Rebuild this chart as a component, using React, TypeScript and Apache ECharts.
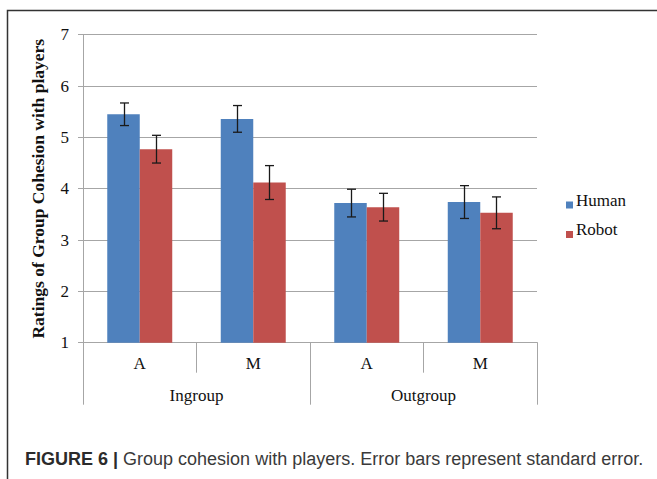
import React, { useEffect, useRef } from "react";
import * as echarts from "echarts";

const subCategories = ["A", "M", "A", "M"];
const groups = ["Ingroup", "Outgroup"];
const seriesNames = ["Human", "Robot"];
const humanValues = [5.45, 5.36, 3.72, 3.74];
const humanErrors = [0.22, 0.26, 0.27, 0.32];
const robotValues = [4.77, 4.12, 3.64, 3.53];
const robotErrors = [0.27, 0.33, 0.27, 0.31];
const yTicks = [1, 2, 3, 4, 5, 6, 7];
const yTitle = "Ratings of Group Cohesion with players";
const captionBold = "FIGURE 6 |";
const captionText = " Group cohesion with players. Error bars represent standard error.";

const COLORS = ["#4F81BD", "#C0504D"];
const SERIF = "Liberation Serif";
const SANS = "Liberation Sans";
const BAR_FRAC = 0.2863;

function errorSeries(values: number[], errors: number[], side: number, name: string) {
  return {
    type: "custom",
    name: name + " SE",
    xAxisIndex: 0,
    yAxisIndex: 0,
    silent: true,
    z: 10,
    data: values.map((v, i) => [i, v - errors[i], v + errors[i]]),
    renderItem: (params: any, api: any) => {
      const idx = api.value(0);
      const lo = api.coord([idx, api.value(1)]);
      const hi = api.coord([idx, api.value(2)]);
      const band = api.size([1, 0])[0];
      const x = Math.round(lo[0] + side * band * BAR_FRAC * 0.5) + 0.5;
      const cap = 4.5;
      const style = { stroke: "#1a1a1a", lineWidth: 1.3, fill: "none" };
      return {
        type: "group",
        children: [
          { type: "line", shape: { x1: x, y1: lo[1], x2: x, y2: hi[1] }, style },
          { type: "line", shape: { x1: x - cap, y1: hi[1], x2: x + cap, y2: hi[1] }, style },
          { type: "line", shape: { x1: x - cap, y1: lo[1], x2: x + cap, y2: lo[1] }, style },
        ],
      };
    },
  };
}

function legendGraphics() {
  const items: any[] = [];
  const rows = [200, 229.5];
  seriesNames.forEach((name, i) => {
    items.push({
      type: "rect",
      shape: { x: 566, y: rows[i] + 1.5, width: 7, height: 7 },
      style: { fill: COLORS[i] },
      silent: true,
    });
    items.push({
      type: "text",
      x: 576,
      y: rows[i],
      style: {
        text: name,
        font: "17px 'Liberation Serif', serif",
        fontFamily: SERIF,
        fontSize: 17,
        fill: "#111",
        verticalAlign: "middle",
      },
      silent: true,
    });
  });
  return items;
}

export default function App() {
  const ref = useRef<HTMLDivElement>(null);
  useEffect(() => {
    if (!ref.current) return;
    const chart = echarts.init(ref.current, undefined, { renderer: "svg" });
    const gridColor = "#a6a6a6";
    chart.setOption({
      animation: false,
      backgroundColor: "#ffffff",
      textStyle: { fontFamily: SERIF },
      grid: { left: 83, right: 120, top: 34.7, bottom: 136.3, containLabel: false },
      legend: { show: false, data: seriesNames },
      xAxis: [
        {
          type: "category",
          data: subCategories,
          position: "bottom",
          boundaryGap: true,
          axisLine: { show: true, lineStyle: { color: gridColor, width: 1 } },
          axisTick: { show: true, interval: 0, length: 30, lineStyle: { color: gridColor } },
          axisLabel: { interval: 0, margin: 12, fontFamily: SERIF, fontSize: 17, color: "#111" },
          splitLine: { show: false },
        },
        {
          type: "category",
          data: groups,
          position: "bottom",
          offset: 0,
          boundaryGap: true,
          axisLine: { show: true, lineStyle: { color: gridColor, width: 1 } },
          axisTick: { show: true, interval: 0, length: 62, lineStyle: { color: gridColor } },
          axisLabel: { interval: 0, margin: 44, fontFamily: SERIF, fontSize: 17, color: "#111" },
          splitLine: { show: false },
        },
      ],
      yAxis: {
        type: "value",
        min: yTicks[0],
        max: yTicks[yTicks.length - 1],
        interval: 1,
        name: yTitle,
        nameLocation: "middle",
        nameRotate: 90,
        nameGap: 36,
        nameTextStyle: { fontFamily: SERIF, fontSize: 17.5, fontWeight: "bold", color: "#111" },
        axisLine: { show: true, lineStyle: { color: gridColor, width: 1 } },
        axisTick: { show: true, length: 5, lineStyle: { color: gridColor } },
        axisLabel: { margin: 14, fontFamily: SERIF, fontSize: 17, color: "#111" },
        splitLine: { show: true, lineStyle: { color: gridColor, width: 1 } },
      },
      series: [
        {
          name: seriesNames[0],
          type: "bar",
          data: humanValues,
          barWidth: (BAR_FRAC * 100).toFixed(2) + "%",
          barGap: "0%",
          itemStyle: { color: COLORS[0] },
        },
        {
          name: seriesNames[1],
          type: "bar",
          data: robotValues,
          barWidth: (BAR_FRAC * 100).toFixed(2) + "%",
          barGap: "0%",
          itemStyle: { color: COLORS[1] },
        },
        errorSeries(humanValues, humanErrors, -1, seriesNames[0]),
        errorSeries(robotValues, robotErrors, 1, seriesNames[1]),
      ],
      graphic: [
        {
          type: "rect",
          shape: { x: 7.5, y: 10.5, width: 800, height: 600 },
          style: { fill: "none", stroke: "#333333", lineWidth: 1.5 },
          silent: true,
          z: -1,
        },
        ...legendGraphics(),
        {
          type: "text",
          x: 25,
          y: 459,
          style: {
            text: "{b|" + captionBold + "}{n|" + captionText + "}",
            verticalAlign: "middle",
            rich: {
              b: { fontFamily: SANS, fontSize: 18, fontWeight: "bold", fill: "#2b2b2b" },
              n: { fontFamily: SANS, fontSize: 18, fill: "#3a3a3a" },
            },
          },
        },
      ],
    });
    return () => chart.dispose();
  }, []);
  return (
    <div
      ref={ref}
      style={{ position: "absolute", left: 0, top: 0, width: 657, height: 479 }}
    />
  );
}
